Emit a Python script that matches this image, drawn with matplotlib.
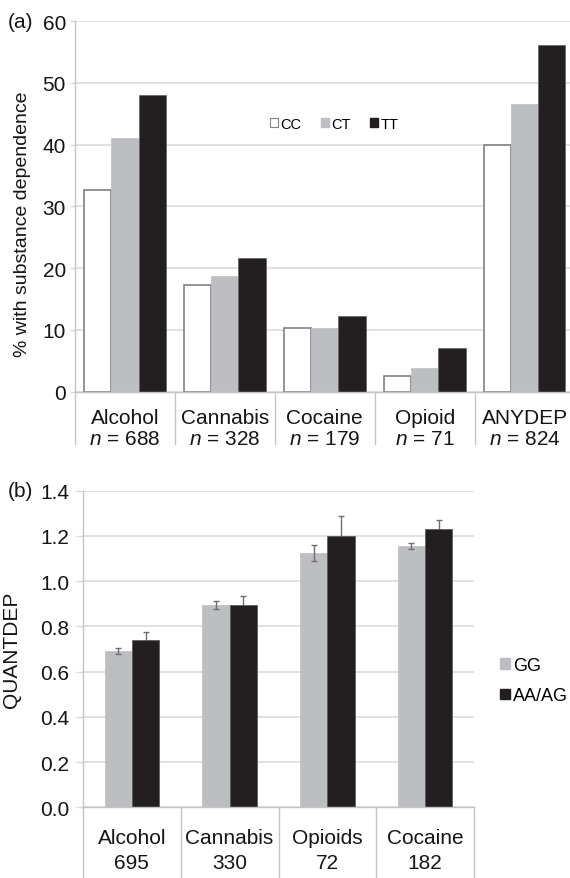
import matplotlib
matplotlib.use("Agg")
import matplotlib.pyplot as plt
from matplotlib.patches import Patch
import numpy as np

plt.rcParams['font.family'] = ['Liberation Sans', 'DejaVu Sans']
plt.rcParams['mathtext.fontset'] = 'custom'
plt.rcParams['mathtext.rm'] = 'Liberation Sans'
plt.rcParams['mathtext.it'] = 'Liberation Sans:italic'

# ---- panel (a): % with substance dependence by genotype ----
subst_a = ["Alcohol", "Cannabis", "Cocaine", "Opioid", "ANYDEP"]
n_a = [688, 328, 179, 71, 824]
geno_a = ["CC", "CT", "TT"]
cc_vals = [32.7, 17.3, 10.3, 2.6, 39.9]
ct_vals = [41.1, 18.8, 10.3, 3.8, 46.5]
tt_vals = [48.0, 21.7, 12.2, 7.1, 56.1]
yticks_a = [0, 10, 20, 30, 40, 50, 60]

# ---- panel (b): QUANTDEP by genotype ----
subst_b = ["Alcohol", "Cannabis", "Opioids", "Cocaine"]
n_b = [695, 330, 72, 182]
geno_b = ["GG", "AA/AG"]
gg_vals = [0.69, 0.895, 1.125, 1.155]
gg_err = [0.013, 0.018, 0.037, 0.012]
aa_vals = [0.74, 0.895, 1.20, 1.23]
aa_err = [0.034, 0.038, 0.088, 0.040]
yticks_b = [0.0, 0.2, 0.4, 0.6, 0.8, 1.0, 1.2, 1.4]

W, H = 570, 879
fig = plt.figure(figsize=(W / 100, H / 100), dpi=100)

GRID = '#d9d9d9'
AXC = '#c4c4c4'
WHITE = '#ffffff'
GREY = '#bdbec2'
BLACK = '#231f20'
TXT = '#151515'
FS = 15


def px_axes(left, right, top, bottom):
    return fig.add_axes([left / W, 1 - bottom / H, (right - left) / W, (bottom - top) / H])


def style_axes(ax, ticklen, tickpad):
    for s in ('top', 'right'):
        ax.spines[s].set_visible(False)
    for s in ('left', 'bottom'):
        ax.spines[s].set_color(AXC)
        ax.spines[s].set_linewidth(1.0)
    ax.yaxis.grid(True, color=GRID, linewidth=1.1)
    ax.set_axisbelow(True)
    ax.tick_params(axis='y', length=ticklen, width=1.0, color=GRID, pad=tickpad,
                   labelsize=FS, labelcolor=TXT)
    ax.tick_params(axis='x', length=0, labelbottom=False)


def category_separators(ax, ncat, depth):
    for b in np.arange(ncat + 1) - 0.5:
        ax.plot([b, b], [0, -depth], transform=ax.get_xaxis_transform(),
                color=AXC, linewidth=1.0, clip_on=False)


# ---------------- panel (a) ----------------
ax1 = px_axes(75, 574.5, 22, 392.7)
x = np.arange(len(subst_a))
bw = 0.273
ax1.bar(x - bw, cc_vals, bw, color=WHITE, edgecolor='#808080', linewidth=1.2, label=geno_a[0])
ax1.bar(x, ct_vals, bw, color=GREY, edgecolor=GREY, linewidth=0.5, label=geno_a[1])
ax1.bar(x + bw, tt_vals, bw, color=BLACK, edgecolor='#6a6a6a', linewidth=0.6, label=geno_a[2])
ax1.set_xlim(-0.5, len(subst_a) - 0.5)
ax1.set_ylim(0, 60)
ax1.set_yticks(yticks_a)
ax1.set_yticklabels([str(v) for v in yticks_a])
style_axes(ax1, 3.5, 3.0)
category_separators(ax1, len(subst_a), 0.142)
for i, (name, n) in enumerate(zip(subst_a, n_a)):
    ax1.annotate(name, xy=(i, 0), xycoords=('data', 'axes fraction'),
                 xytext=(0, -26), textcoords='offset pixels',
                 ha='center', va='center', fontsize=FS, color=TXT)
    ax1.annotate(r"$n$ = %d" % n, xy=(i, 0), xycoords=('data', 'axes fraction'),
                 xytext=(0, -47), textcoords='offset pixels',
                 ha='center', va='center', fontsize=FS, color=TXT)
ax1.set_ylabel("% with substance dependence", fontsize=14, color=TXT)
ax1.yaxis.set_label_coords(-0.088, 0.455)
handles_a = [Patch(facecolor=WHITE, edgecolor='#808080', linewidth=0.8),
             Patch(facecolor=GREY, edgecolor=GREY),
             Patch(facecolor=BLACK, edgecolor=BLACK)]
ax1.legend(handles_a, geno_a, loc='center', bbox_to_anchor=(0.519, 0.723), ncol=3,
           frameon=False, fontsize=10.5, handlelength=0.55, handleheight=0.55,
           handletextpad=0.2, columnspacing=1.3, borderpad=0)
fig.text(8 / W, 1 - 22 / H, "(a)", fontsize=FS, ha='left', va='center', color=TXT)

# ---------------- panel (b) ----------------
ax2 = px_axes(83, 474, 491.7, 808.3)
xb = np.arange(len(subst_b))
bw2 = 0.28
ax2.bar(xb - bw2 / 2, gg_vals, bw2, color=GREY, edgecolor=GREY, linewidth=0.5,
        label=geno_b[0], zorder=2)
ax2.bar(xb + bw2 / 2, aa_vals, bw2, color=BLACK, edgecolor='#555555', linewidth=0.5,
        label=geno_b[1], zorder=2)
ax2.errorbar(xb - bw2 / 2, gg_vals, yerr=gg_err, fmt='none', ecolor='#6e6e6e',
             elinewidth=1.0, capsize=2.5, capthick=1.0, zorder=3)
# the lower whisker of the dark bars sits behind the bar itself
ax2.errorbar(xb + bw2 / 2, aa_vals, yerr=aa_err, fmt='none', ecolor='#6e6e6e',
             elinewidth=1.0, capsize=2.5, capthick=1.0, zorder=1.5)
ax2.set_xlim(-0.5, len(subst_b) - 0.5)
ax2.set_ylim(0, 1.4)
ax2.set_yticks(yticks_b)
ax2.set_yticklabels(["%.1f" % v for v in yticks_b])
style_axes(ax2, 5.0, 5.0)
category_separators(ax2, len(subst_b), 0.25)
for i, (name, n) in enumerate(zip(subst_b, n_b)):
    ax2.annotate(name, xy=(i, 0), xycoords=('data', 'axes fraction'),
                 xytext=(0, -30), textcoords='offset pixels',
                 ha='center', va='center', fontsize=FS, color=TXT)
    ax2.annotate(str(n), xy=(i, 0), xycoords=('data', 'axes fraction'),
                 xytext=(0, -55), textcoords='offset pixels',
                 ha='center', va='center', fontsize=FS, color=TXT)
ax2.set_ylabel("QUANTDEP", fontsize=FS, color=TXT)
ax2.yaxis.set_label_coords(-0.158, 0.5)
handles_b = [Patch(facecolor=GREY, edgecolor=GREY), Patch(facecolor=BLACK, edgecolor=BLACK)]
ax2.legend(handles_b, geno_b, loc='center left', bbox_to_anchor=(1.0665, 0.40),
           frameon=False, fontsize=13, handlelength=0.55, handleheight=0.55,
           handletextpad=0.15, labelspacing=0.75, borderpad=0, borderaxespad=0)
fig.text(8 / W, 1 - 491.7 / H, "(b)", fontsize=FS, ha='left', va='center', color=TXT)

fig.savefig("out.png", dpi=100)
